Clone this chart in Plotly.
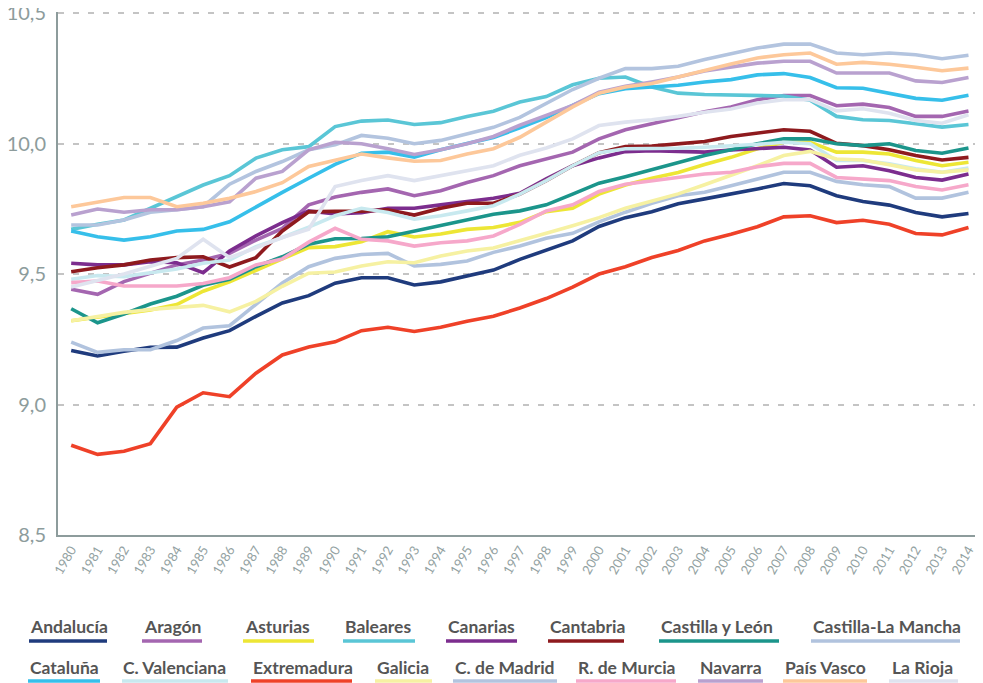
import plotly.graph_objects as go

years = list(range(1980, 2015))

andalucia = [9.207, 9.186, 9.204, 9.219, 9.22, 9.255, 9.283, 9.338, 9.389, 9.417, 9.465, 9.486, 9.486, 9.458, 9.47, 9.492, 9.515, 9.556, 9.592, 9.627, 9.682, 9.716, 9.739, 9.769, 9.788, 9.806, 9.826, 9.847, 9.838, 9.80, 9.778, 9.764, 9.736, 9.719, 9.732]
aragon = [9.442, 9.422, 9.471, 9.503, 9.535, 9.554, 9.579, 9.63, 9.675, 9.765, 9.795, 9.813, 9.826, 9.80, 9.819, 9.851, 9.877, 9.915, 9.941, 9.967, 10.018, 10.053, 10.076, 10.099, 10.122, 10.14, 10.168, 10.184, 10.184, 10.145, 10.151, 10.138, 10.104, 10.104, 10.125]
asturias = [9.321, 9.335, 9.35, 9.362, 9.383, 9.434, 9.47, 9.515, 9.558, 9.601, 9.605, 9.624, 9.662, 9.642, 9.653, 9.671, 9.678, 9.698, 9.739, 9.752, 9.806, 9.841, 9.867, 9.889, 9.92, 9.947, 9.98, 10.005, 10.005, 9.967, 9.967, 9.96, 9.935, 9.915, 9.928]
baleares = [9.671, 9.691, 9.707, 9.752, 9.797, 9.841, 9.877, 9.944, 9.976, 9.988, 10.065, 10.086, 10.09, 10.073, 10.08, 10.104, 10.124, 10.159, 10.18, 10.225, 10.25, 10.255, 10.217, 10.193, 10.188, 10.185, 10.185, 10.182, 10.166, 10.104, 10.091, 10.088, 10.076, 10.063, 10.073]
canarias = [9.541, 9.535, 9.535, 9.547, 9.543, 9.505, 9.588, 9.646, 9.697, 9.742, 9.73, 9.735, 9.752, 9.752, 9.765, 9.777, 9.79, 9.809, 9.865, 9.915, 9.945, 9.969, 9.973, 9.97, 9.967, 9.975, 9.98, 9.986, 9.975, 9.909, 9.915, 9.896, 9.87, 9.86, 9.883]
cantabria = [9.509, 9.524, 9.535, 9.554, 9.563, 9.566, 9.527, 9.563, 9.665, 9.738, 9.74, 9.741, 9.746, 9.726, 9.752, 9.771, 9.771, 9.806, 9.858, 9.915, 9.965, 9.988, 9.99, 9.999, 10.008, 10.027, 10.04, 10.053, 10.047, 10.001, 9.992, 9.976, 9.954, 9.937, 9.947]
castilla_leon = [9.367, 9.313, 9.347, 9.385, 9.415, 9.457, 9.48, 9.528, 9.566, 9.614, 9.635, 9.636, 9.643, 9.665, 9.685, 9.707, 9.729, 9.742, 9.765, 9.806, 9.848, 9.873, 9.90, 9.925, 9.954, 9.976, 9.999, 10.018, 10.018, 9.999, 9.992, 9.999, 9.973, 9.963, 9.983]
castilla_mancha = [9.239, 9.20, 9.21, 9.21, 9.245, 9.293, 9.302, 9.383, 9.466, 9.528, 9.56, 9.575, 9.579, 9.531, 9.537, 9.55, 9.583, 9.607, 9.637, 9.656, 9.70, 9.737, 9.771, 9.80, 9.813, 9.838, 9.864, 9.89, 9.89, 9.855, 9.842, 9.835, 9.791, 9.791, 9.813]
cataluna = [9.665, 9.643, 9.63, 9.643, 9.665, 9.671, 9.70, 9.758, 9.813, 9.867, 9.92, 9.963, 9.967, 9.948, 9.976, 10.0, 10.023, 10.06, 10.099, 10.146, 10.191, 10.21, 10.217, 10.223, 10.236, 10.245, 10.263, 10.268, 10.253, 10.214, 10.212, 10.192, 10.173, 10.166, 10.185]
valenciana = [9.48, 9.494, 9.49, 9.503, 9.519, 9.541, 9.554, 9.605, 9.64, 9.68, 9.723, 9.752, 9.736, 9.71, 9.723, 9.742, 9.762, 9.806, 9.858, 9.915, 9.965, 9.98, 9.98, 9.982, 9.986, 9.99, 9.997, 10.005, 9.999, 9.935, 9.935, 9.922, 9.903, 9.89, 9.906]
extremadura = [8.844, 8.809, 8.821, 8.85, 8.99, 9.045, 9.03, 9.12, 9.19, 9.22, 9.24, 9.283, 9.296, 9.28, 9.296, 9.319, 9.338, 9.37, 9.406, 9.45, 9.50, 9.528, 9.563, 9.59, 9.627, 9.652, 9.681, 9.719, 9.723, 9.697, 9.706, 9.691, 9.655, 9.65, 9.678]
galicia = [9.321, 9.338, 9.353, 9.364, 9.372, 9.38, 9.355, 9.395, 9.453, 9.503, 9.508, 9.531, 9.547, 9.543, 9.569, 9.588, 9.60, 9.627, 9.656, 9.685, 9.716, 9.752, 9.781, 9.807, 9.842, 9.877, 9.915, 9.954, 9.97, 9.941, 9.937, 9.919, 9.899, 9.89, 9.899]
madrid = [9.688, 9.688, 9.707, 9.737, 9.746, 9.758, 9.844, 9.893, 9.931, 9.976, 9.995, 10.031, 10.02, 9.999, 10.012, 10.037, 10.062, 10.10, 10.153, 10.207, 10.25, 10.287, 10.287, 10.296, 10.322, 10.345, 10.366, 10.381, 10.381, 10.347, 10.34, 10.347, 10.34, 10.325, 10.338]
murcia = [9.467, 9.473, 9.454, 9.454, 9.454, 9.464, 9.486, 9.535, 9.558, 9.622, 9.675, 9.633, 9.627, 9.607, 9.62, 9.627, 9.646, 9.69, 9.742, 9.765, 9.816, 9.844, 9.858, 9.87, 9.883, 9.89, 9.911, 9.924, 9.924, 9.87, 9.864, 9.858, 9.835, 9.822, 9.842]
navarra = [9.726, 9.749, 9.737, 9.746, 9.746, 9.758, 9.777, 9.867, 9.893, 9.976, 10.005, 9.999, 9.98, 9.958, 9.976, 9.999, 10.027, 10.07, 10.108, 10.146, 10.197, 10.219, 10.236, 10.255, 10.278, 10.292, 10.308, 10.315, 10.315, 10.27, 10.27, 10.27, 10.24, 10.234, 10.253]
pais_vasco = [9.758, 9.775, 9.793, 9.793, 9.758, 9.771, 9.79, 9.816, 9.85, 9.912, 9.935, 9.96, 9.945, 9.932, 9.935, 9.96, 9.98, 10.024, 10.082, 10.14, 10.193, 10.217, 10.23, 10.255, 10.283, 10.305, 10.328, 10.34, 10.347, 10.304, 10.311, 10.304, 10.292, 10.279, 10.289]
la_rioja = [9.45, 9.475, 9.50, 9.53, 9.56, 9.633, 9.563, 9.60, 9.64, 9.672, 9.835, 9.858, 9.877, 9.858, 9.877, 9.896, 9.915, 9.955, 9.983, 10.018, 10.069, 10.082, 10.091, 10.104, 10.12, 10.132, 10.155, 10.168, 10.168, 10.125, 10.133, 10.116, 10.088, 10.078, 10.11]

y_tick_vals = [8.5, 9.0, 9.5, 10.0, 10.5]
y_tick_text = ["8,5", "9,0", "9,5", "10,0", "10,5"]

series = [
    ("Andalucía", andalucia, "#1f3b7d"),
    ("Aragón", aragon, "#a466b0"),
    ("Asturias", asturias, "#ede635"),
    ("Baleares", baleares, "#5ac6d6"),
    ("Canarias", canarias, "#7c2d8e"),
    ("Cantabria", cantabria, "#8e1a1e"),
    ("Castilla y León", castilla_leon, "#1b958b"),
    ("Castilla-La Mancha", castilla_mancha, "#b1c3de"),
    ("Cataluña", cataluna, "#36bfea"),
    ("C. Valenciana", valenciana, "#c8e9ef"),
    ("Extremadura", extremadura, "#ef4128"),
    ("Galicia", galicia, "#f6f1a2"),
    ("C. de Madrid", madrid, "#b3c4df"),
    ("R. de Murcia", murcia, "#f6a8ca"),
    ("Navarra", navarra, "#b9a1cf"),
    ("País Vasco", pais_vasco, "#fdc89a"),
    ("La Rioja", la_rioja, "#dfe3ef"),
]

# legend layout (page pixel positions): text left x, underline x0, x1, row
legend_pos = {
    "Andalucía": (30, 29, 107, 0), "Aragón": (144, 142, 202, 0), "Asturias": (245, 243, 314, 0),
    "Baleares": (345, 343, 415, 0), "Canarias": (448, 446, 517, 0), "Cantabria": (550, 548, 624, 0),
    "Castilla y León": (661, 659, 779, 0), "Castilla-La Mancha": (813, 811, 960, 0),
    "Cataluña": (30, 28, 100, 1), "C. Valenciana": (123, 122, 228, 1), "Extremadura": (253, 251, 352, 1),
    "Galicia": (377, 375, 432, 1), "C. de Madrid": (455, 453, 557, 1), "R. de Murcia": (578, 576, 676, 1),
    "Navarra": (700, 698, 763, 1), "País Vasco": (785, 783, 867, 1), "La Rioja": (892, 889, 958, 1),
}

OFF = 8  # default page body margin
W, H = 983 - OFF, 683 - OFF
L, R, T, B = 58 - OFF, 0, 12 - OFF, 683 - 535
pw, ph = W - L - R, H - T - B

def px(x):
    return (x - OFF - L) / pw

def py(y):
    return (H - B - (y - OFF)) / ph

fig = go.Figure()
for name, vals, col in series:
    fig.add_trace(go.Scatter(x=years, y=vals, mode="lines", name=name,
                             line=dict(color=col, width=3.6), showlegend=False))

FONT = "Lato, Roboto, sans-serif"
annotations = []
shapes = []
text_y = [626, 667]
line_y = [641, 681]
for name, vals, col in series:
    tx, x0, x1, row = legend_pos[name]
    annotations.append(dict(x=px(tx), y=py(text_y[row]), xref="paper", yref="paper",
                            text="<b>%s</b>" % name, showarrow=False, xanchor="left", yanchor="middle",
                            xshift=-2, font=dict(family=FONT, size=17.5, color="#555555")))
    shapes.append(dict(type="line", xref="paper", yref="paper", x0=px(x0), x1=px(x1),
                       y0=py(line_y[row]), y1=py(line_y[row]), line=dict(color=col, width=3.5)))

fig.update_layout(
    width=W, height=H, margin=dict(l=L, r=R, t=T, b=B),
    paper_bgcolor="white", plot_bgcolor="white",
    annotations=annotations, shapes=shapes,
    xaxis=dict(range=[1979.5, 2014.55], tickmode="array", tickvals=years,
               ticktext=[str(y) for y in years], tickangle=-60, showgrid=False,
               showline=True, linecolor="#8d9c9c", linewidth=2, ticks="", automargin=False,
               tickfont=dict(family=FONT, size=13, color="#93a2a2"), zeroline=False),
    yaxis=dict(range=[8.5, 10.504], tickmode="array", tickvals=y_tick_vals, ticktext=y_tick_text,
               showgrid=True, gridcolor="#c4c4c4", gridwidth=1.5, griddash="6px,9px",
               showline=True, linecolor="#8d9c9c", linewidth=2, ticks="", zeroline=False,
               automargin=False, ticklabelstandoff=6, ticklabeloverflow="allow",
               tickfont=dict(family=FONT, size=20, color="#8d9c9c")),
)

fig.write_html("out.html")
